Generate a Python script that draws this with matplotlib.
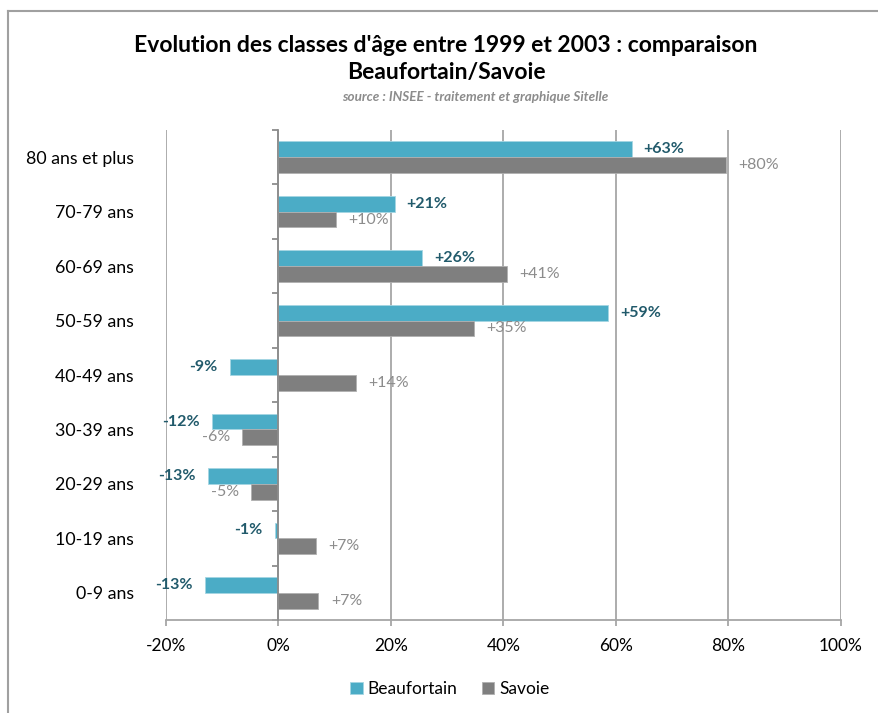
import matplotlib
matplotlib.use("Agg")
from matplotlib import pyplot as plt
from matplotlib.lines import Line2D
import numpy as np

plt.rcParams['font.family'] = ['Lato', 'DejaVu Sans']

# categories from bottom to top
classes = ["0-9 ans", "10-19 ans", "20-29 ans", "30-39 ans", "40-49 ans",
           "50-59 ans", "60-69 ans", "70-79 ans", "80 ans et plus"]
beaufortain = [-13.1, -0.7, -12.6, -11.9, -8.7, 58.6, 25.6, 20.7, 62.8]
savoie = [7.1, 6.6, -4.8, -6.4, 13.7, 34.7, 40.6, 10.2, 79.5]
xticks = [-20, 0, 20, 40, 60, 80, 100]

teal = '#4BACC6'
grey = '#7F7F7F'
grid_c = '#A6A6A6'

W, H = 879, 713
fig = plt.figure(figsize=(W / 100, H / 100), dpi=100)
ax = fig.add_axes([166 / W, (H - 620) / H, (841 - 166) / W, (620 - 130) / H])

y = np.arange(len(classes))
h = 0.29
b1 = ax.barh(y + h / 2, beaufortain, height=h, color=teal, edgecolor='#A5D5E2',
             linewidth=0.6, label='Beaufortain', zorder=3)
b2 = ax.barh(y - h / 2, savoie, height=h, color=grey, edgecolor='#B0B0B0',
             linewidth=0.6, label='Savoie', zorder=3)

fmt = lambda v: f"{v:+.0f}%"
ax.bar_label(b1, labels=[fmt(v) for v in beaufortain], padding=8.5,
             color='#215A6B', fontweight='bold', fontsize=11.5)
ax.bar_label(b2, labels=[fmt(v) for v in savoie], padding=9,
             color='#8C8C8C', fontsize=11.5)

ax.set_xlim(-20, 100)
ax.set_ylim(-0.5, len(classes) - 0.5)
ax.set_xticks(xticks)
ax.set_xticklabels([f"{t}%" for t in xticks], fontsize=12.5)
ax.xaxis.grid(True, color=grid_c, linewidth=1.3, zorder=0)

# vertical axis at 0 with ticks at category boundaries
ax.spines['left'].set_position(('data', 0))
ax.spines['left'].set_color('#8C8C8C')
ax.spines['left'].set_linewidth(1.3)
ax.spines['left'].set_zorder(4)
ax.set_yticks(y)
ax.set_yticklabels(classes, fontsize=12.8)
ax.set_yticks(np.arange(-0.5, len(classes)), minor=True)
ax.tick_params(axis='y', which='major', length=0, pad=104)
ax.tick_params(axis='y', which='minor', length=4, width=1.3, color='#8C8C8C')
ax.tick_params(axis='x', length=4, width=1.3, color=grid_c, pad=9)
ax.spines['bottom'].set_color(grid_c)
ax.spines['bottom'].set_linewidth(1.3)
for s in ['top', 'right']:
    ax.spines[s].set_visible(False)

fig.text(446 / W, 1 - 59 / H, "Evolution des classes d'âge entre 1999 et 2003 : comparaison\nBeaufortain/Savoie",
         ha='center', va='center', fontsize=16.5, fontweight='bold', linespacing=1.32)
fig.text(475 / W, 1 - 97 / H, "source : INSEE - traitement et graphique Sitelle",
         ha='center', va='center', fontsize=9.7, style='italic', fontweight='bold', color='#8C8C8C')

fig.legend(handles=[b1, b2], loc='center', bbox_to_anchor=(450 / W, 1 - 689 / H),
           ncol=2, frameon=False, fontsize=12.5, handlelength=0.7, handleheight=0.7,
           handletextpad=0.3, columnspacing=1.4)

# chart border (top and left visible)
fig.add_artist(Line2D([8 / W, 1], [1 - 11 / H, 1 - 11 / H], color='#A0A0A0', linewidth=1.5))
fig.add_artist(Line2D([8 / W, 8 / W], [0, 1 - 11 / H], color='#A0A0A0', linewidth=1.5))

fig.savefig('out.png', dpi=100)
